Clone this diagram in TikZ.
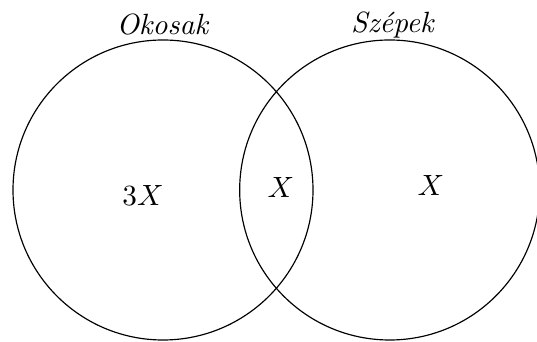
\documentclass[tikz,border=0pt]{standalone}
\usepackage{amsmath,amssymb}
\usepackage{tikz}
\tikzset{halmaz/.style={draw,circle,minimum size=3.6cm,inner sep=0pt}}

\begin{document}
\begin{tikzpicture}
\useasboundingbox (-1.956,-1.824) rectangle (4.488,2.28);
\node[halmaz] (okosak) at (0,0) {};
\node[halmaz] (szepek) at (2.72,0) {};
\node[anchor=base] (okosakcim) at (0,1.86) {\textit{Okosak}};
\node[anchor=base] (szepekcim) at (2.76,1.884) {\textit{Szépek}};
\node (csakokos) at (-0.24,-0.06) {$3X$};
\node (mindketto) at (1.416,0.036) {$X$};
\node (csakszep) at (3.216,0.048) {$X$};
\end{tikzpicture}
\end{document}
